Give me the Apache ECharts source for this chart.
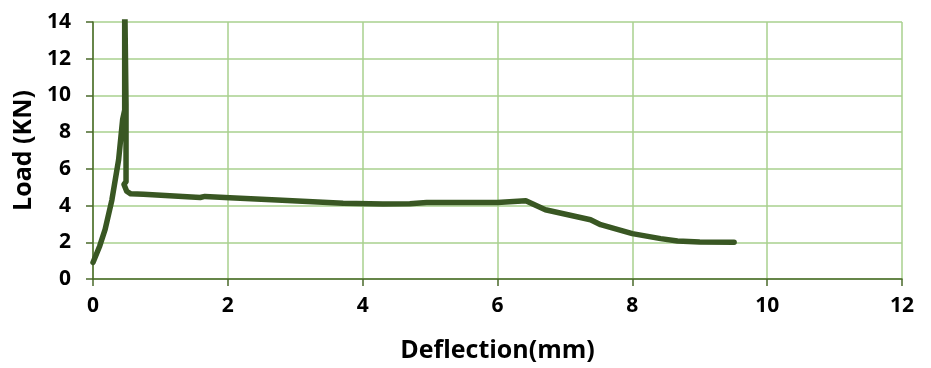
<!DOCTYPE html>
<html>
<head>
<meta charset="utf-8">
<script src="https://cdn.jsdelivr.net/npm/echarts@6/dist/echarts.min.js"></script>
<style>
  html, body { margin: 0; padding: 0; background: #ffffff; }
  #chart { width: 931px; height: 368px; }
</style>
</head>
<body>
<div id="chart"></div>
<script>
// Load–deflection record of the test specimen
const deflection = [0, 0.1, 0.18, 0.28, 0.38, 0.44, 0.47, 0.47, 0.49, 0.49, 0.49, 0.46, 0.5, 0.56, 0.75, 1.59, 1.66, 2.03, 2.73, 3.71, 4.3, 4.7, 4.95, 6.0, 6.42, 6.71, 7.38, 7.53, 8.0, 8.42, 8.67, 9.0, 9.51];
const load = [0.9, 1.8, 2.7, 4.3, 6.5, 8.7, 9.2, 15.5, 15.5, 9.5, 5.3, 5.15, 4.78, 4.64, 4.62, 4.44, 4.5, 4.42, 4.3, 4.12, 4.08, 4.1, 4.17, 4.17, 4.26, 3.77, 3.23, 2.96, 2.47, 2.2, 2.07, 2.01, 2.0];
const xTicks = [0, 2, 4, 6, 8, 10, 12];
const yTicks = [0, 2, 4, 6, 8, 10, 12, 14];

const points = deflection.map((d, i) => [d, load[i]]);

const FONT = "'Open Sans', 'Liberation Sans', sans-serif";
const AXIS_COLOR = '#4a6a2a';
const GRID_COLOR = '#a9d18e';

const chart = echarts.init(document.getElementById('chart'), null, { renderer: 'canvas' });
chart.setOption({
  animation: false,
  backgroundColor: '#ffffff',
  grid: { left: 93, right: 29, top: 22, bottom: 88 },
  xAxis: {
    type: 'value',
    min: xTicks[0],
    max: xTicks[xTicks.length - 1],
    interval: xTicks[1] - xTicks[0],
    name: 'Deflection(mm)',
    nameLocation: 'middle',
    nameGap: 59,
    nameTextStyle: { fontFamily: FONT, fontWeight: 'bold', fontSize: 25, color: '#000' },
    axisLine: { show: true, onZero: false, lineStyle: { color: AXIS_COLOR, width: 1.5 } },
    axisTick: { show: true, inside: false, length: 7, lineStyle: { color: AXIS_COLOR, width: 1.5 } },
    axisLabel: { margin: 17, fontFamily: FONT, fontWeight: 'bold', fontSize: 21, color: '#000' },
    splitLine: { show: true, lineStyle: { color: GRID_COLOR, width: 1.5 } }
  },
  yAxis: {
    type: 'value',
    min: yTicks[0],
    max: yTicks[yTicks.length - 1],
    interval: yTicks[1] - yTicks[0],
    name: 'Load (KN)',
    nameLocation: 'middle',
    nameGap: 57,
    nameRotate: 90,
    nameTextStyle: { fontFamily: FONT, fontWeight: 'bold', fontSize: 25, color: '#000' },
    axisLine: { show: true, onZero: false, lineStyle: { color: AXIS_COLOR, width: 1.5 } },
    axisTick: { show: true, inside: false, length: 7, lineStyle: { color: AXIS_COLOR, width: 1.5 } },
    axisLabel: { margin: 22, fontFamily: FONT, fontWeight: 'bold', fontSize: 21, color: '#000' },
    splitLine: { show: true, lineStyle: { color: GRID_COLOR, width: 1.5 } }
  },
  series: [{
    type: 'line',
    data: points,
    clip: true,
    showSymbol: false,
    symbol: 'none',
    smooth: false,
    lineStyle: { color: '#395723', width: 5.5, join: 'round', cap: 'round' }
  }]
});
</script>
</body>
</html>
